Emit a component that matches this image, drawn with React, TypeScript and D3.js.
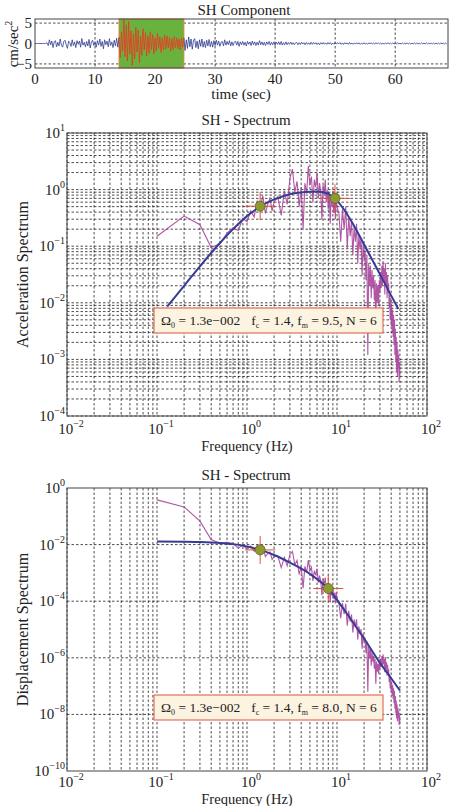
import React from 'react';
import * as d3 from 'd3';

const SERIF = '"Liberation Serif", "Times New Roman", serif';
const GRID = { stroke: '#000', strokeWidth: 0.7, strokeDasharray: '2.5,2' };

// ---- SH component trace (cm/sec^2), sampled every TRACE_DT seconds ----
const TRACE_START = 0;
const TRACE_DT = 0.2;
const TRACE = [
  0, 0, 0, 0, 0, 0, 0, 0, 0, 0,
  // pre-event noise, 2-14 s
  0.2, -0.5, 0.9, -0.3, 0.6, -1.0, 0.4, 0.7, -0.8, 0.3,
  -0.6, 1.1, -0.4, -0.9, 0.5, 0.8, -0.3, -1.2, 0.6, 0.2,
  -0.7, 0.9, -0.5, 0.4, -1.0, 0.7, -0.2, 0.6, -0.9, 1.2,
  -0.4, 0.3, -0.8, 0.5, -0.6, 1.0, -1.1, 0.4, 0.8, -0.5,
  0.3, -0.9, 0.7, -0.4, 1.1, -0.7, 0.5, -1.3, 0.9, -0.3,
  0.6, -0.8, 1.2, -0.5, 0.4, -1.0, 0.8, -0.6, 1.3, -0.9,
  // selected window, 14-24.6 s
  1.5, -3.5, 2.8, -1.9, 5.9, -3.2, 4.6, -4.3, 5.4, -2.6,
  3.1, -5.4, 2.4, -3.8, 4.0, -2.1, 3.3, -4.7, 1.8, -2.9,
  3.6, -1.6, 2.7, -3.1, 1.9, -2.4, 2.9, -1.5, 2.2, -2.6,
  1.4, -1.9, 2.5, -1.2, 1.7, -2.2, 1.3, -1.6, 2.1, -1.4,
  1.8, -1.1, 1.5, -1.9, 1.2, -1.5, 1.7, -1.0, 1.4, -1.3,
  1.1, -1.6, 1.3, -0.9,
  // coda, 24.8-29.8 s
  1.4, -1.7, 0.9, -1.2, 1.6, -0.8, 1.1, -1.4, 0.7, 1.2,
  -1.0, 0.6, -1.3, 0.9, -0.7, 1.1, -0.9, 0.5, -1.0, 0.8,
  -0.6, 1.0, -0.8, 0.5, -0.9, 0.7,
  // 30-41.8 s
  -0.5, 0.8, -0.4, 0.6, -0.7, 0.3, 0.5, -0.6, 0.9, -0.4,
  0.5, -0.3, 0.7, -0.6, 0.4, -0.5, 0.3, 0.6, -0.4, 0.5,
  -0.7, 0.4, -0.3, 0.5, -0.4, 0.3, -0.6, 0.5, -0.2, 0.4,
  -0.5, 0.6, -0.3, 0.4, -0.5, 0.3, -0.4, 0.7, -0.3, 0.4,
  -0.4, 0.3, -0.5, 0.4, -0.2, 0.5, -0.4, 0.3, -0.3, 0.4,
  -0.5, 0.3, -0.2, 0.4, -0.3, 0.5, -0.4, 0.2, -0.3, 0.4,
  // 42-68.6 s
  -0.3, 0.25, -0.2, 0.35, -0.25, 0.2, -0.3, 0.15, 0.25, -0.3,
  0.2, -0.25, 0.3, -0.15, 0.2, -0.3, 0.25, -0.2, 0.15, -0.25,
  0.3, -0.2, 0.25, -0.15, 0.2, -0.25, 0.15, -0.3, 0.2, -0.15,
  0.25, -0.2, 0.15, -0.2, 0.25, -0.15, 0.2, -0.25, 0.1, -0.2,
  0.25, -0.15, 0.2, -0.1, 0.2, -0.2, 0.15, -0.25, 0.2, -0.1,
  0.15, -0.2, 0.25, -0.15, 0.1, -0.2, 0.15, -0.15, 0.2, -0.1,
  0.15, -0.2, 0.1, -0.15, 0.2, -0.15, 0.1, -0.2, 0.15, -0.1,
  0.2, -0.15, 0.1, -0.15, 0.2, -0.1, 0.15, -0.1, 0.15, -0.2,
  0.1, -0.15, 0.15, -0.1, 0.2, -0.15, 0.1, -0.1, 0.15, -0.15,
  0.1, -0.15, 0.2, -0.1, 0.1, -0.15, 0.15, -0.1, 0.1, -0.15,
  0.15, -0.1, 0.1, -0.15, 0.1, -0.1, 0.15, -0.1, 0.1, -0.15,
  0.1, -0.1, 0.15, -0.1, 0.1, -0.1, 0.15, -0.1, 0.1, -0.15,
  0.1, -0.1, 0.1, -0.15, 0.1, -0.1, 0.1, -0.1, 0.15, -0.1,
  0.1, -0.1, 0.1, -0.1,
];
const WINDOW = [14, 24.8];
const TIME_TICKS = [0, 10, 20, 30, 40, 50, 60];
const AMP_TICKS = [5, 0, -5];

// ---- spectra ----
const FREQ = [
  0.1, 0.2, 0.3, 0.4, 0.5, 0.6, 0.7, 0.8, 0.9, 1.0, 1.1, 1.2, 1.3, 1.4, 1.5, 1.6, 1.7, 1.8, 1.9, 2.0,
  2.2, 2.4, 2.6, 2.8, 3.0, 3.2, 3.4, 3.6, 3.8, 4.0, 4.2, 4.4, 4.6, 4.8, 5.0, 5.2, 5.4, 5.6, 5.8, 6.0,
  6.2, 6.4, 6.6, 6.8, 7.0, 7.2, 7.4, 7.6, 7.8, 8.0, 8.2, 8.4, 8.6, 8.8, 9.0, 9.2, 9.4, 9.6, 9.8, 10.0,
  10.5, 11, 11.5, 12, 12.5, 13, 13.5, 14, 14.5, 15, 15.5, 16, 16.5, 17, 17.5, 18, 18.5, 19, 19.5, 20,
  20.5, 21, 21.5, 22, 22.5, 23, 23.5, 24, 24.5, 25, 25.5, 26, 26.5, 27, 27.5, 28, 28.5, 29, 29.5, 30,
  30.5, 31, 31.5, 32, 32.5, 33, 33.5, 34, 34.5, 35, 35.5, 36, 36.5, 37, 37.5, 38, 38.5, 39, 39.5, 40,
  40.5, 41, 41.5, 42, 42.5, 43, 43.5, 44, 44.5, 45, 45.5, 46, 46.5, 47, 47.5, 48, 48.5, 49, 49.5, 50,
];
const ACC = [
  0.15, 0.34, 0.24, 0.095, 0.11, 0.17, 0.21, 0.19, 0.31, 0.27, 0.42, 0.33, 0.62, 0.45, 0.78, 0.38, 0.55, 0.7, 0.42, 0.6,
  0.75, 0.35, 0.95, 0.55, 1.6, 2.3, 0.9, 1.4, 0.5, 1.1, 0.2, 1.3, 0.85, 2.6, 1.2, 1.7, 0.6, 1.5, 1.1, 2.0,
  0.7, 1.3, 0.9, 0.3, 1.2, 0.8, 1.5, 0.6, 1.0, 0.45, 0.9, 0.25, 0.75, 0.5, 0.95, 0.4, 0.7, 0.3, 0.8, 0.5,
  0.38, 0.12, 0.45, 0.2, 0.5, 0.09, 0.33, 0.15, 0.28, 0.07, 0.22, 0.12, 0.25, 0.05, 0.16, 0.09, 0.14, 0.03, 0.11, 0.06,
  0.085, 0.025, 0.07, 0.0012, 0.05, 0.02, 0.045, 0.012, 0.038, 0.018, 0.03, 0.011, 0.025, 0.0035, 0.022, 0.01, 0.02, 0.009, 0.025, 0.015,
  0.035, 0.018, 0.045, 0.02, 0.055, 0.025, 0.04, 0.014, 0.05, 0.02, 0.035, 0.012, 0.03, 0.015, 0.022, 0.008, 0.014, 0.005, 0.012, 0.004,
  0.009, 0.003, 0.0075, 0.0025, 0.006, 0.0018, 0.005, 0.0012, 0.0035, 0.0009, 0.0025, 0.0006, 0.002, 0.0005, 0.0015, 0.0007, 0.0012, 0.0004, 0.0009, 0.0005,
];
const DISP = [
  0.38, 0.215, 0.0675, 0.015, 0.0112, 0.012, 0.0109, 0.0075, 0.0097, 0.0068, 0.0088, 0.0058, 0.0093, 0.0058, 0.0088, 0.0038, 0.0048, 0.0055, 0.003, 0.0038,
  0.0039, 0.00154, 0.00356, 0.00178, 0.0045, 0.0057, 0.00197, 0.00274, 0.00088, 0.00174, 0.00029, 0.0017, 0.00102, 0.00286, 0.00122, 0.00159, 0.00052, 0.00121, 0.00083, 0.00141,
  0.00046, 0.0008, 0.00052, 0.000164, 0.00062, 0.00039, 0.00069, 0.00026, 0.00042, 0.000178, 0.00034, 0.00009, 0.00026, 0.000164, 0.0003, 0.00012, 0.0002, 0.000083, 0.00021, 0.000127,
  8.7e-5, 2.5e-5, 8.6e-5, 3.5e-5, 8.1e-5, 1.35e-5, 4.6e-5, 1.9e-5, 3.4e-5, 7.9e-6, 2.3e-5, 1.2e-5, 2.3e-5, 4.4e-6, 1.3e-5, 7e-6, 1.04e-5, 2.1e-6, 7.3e-6, 3.8e-6,
  5.1e-6, 1.44e-6, 3.8e-6, 6.3e-8, 2.5e-6, 9.6e-7, 2.1e-6, 5.3e-7, 1.6e-6, 7.3e-7, 1.17e-6, 4.1e-7, 9e-7, 1.22e-7, 7.4e-7, 3.2e-7, 6.2e-7, 2.7e-7, 7.3e-7, 4.2e-7,
  9.5e-7, 4.7e-7, 1.15e-6, 5e-7, 1.32e-6, 5.8e-7, 9e-7, 3.1e-7, 1.06e-6, 4.1e-7, 7e-7, 2.35e-7, 5.7e-7, 2.8e-7, 4e-7, 1.4e-7, 2.4e-7, 8.3e-8, 1.95e-7, 6.3e-8,
  1.39e-7, 4.5e-8, 1.1e-7, 3.6e-8, 8.4e-8, 2.5e-8, 6.7e-8, 1.6e-8, 4.5e-8, 1.1e-8, 3.1e-8, 7.2e-9, 2.3e-8, 5.7e-9, 1.7e-8, 7.7e-9, 1.3e-8, 4.2e-9, 9.3e-9, 5.1e-9,
];

// fitted source models
const ACC_FIT_F = [0.13, 0.2, 0.3, 0.5, 0.7, 1, 1.4, 2, 3, 4, 5, 6, 7, 8, 9.5, 12, 15, 20, 25, 30, 40, 48];
const ACC_FIT = [0.0086, 0.02, 0.044, 0.114, 0.2, 0.34, 0.5, 0.67, 0.83, 0.89, 0.92, 0.93, 0.9, 0.84, 0.7, 0.44, 0.25, 0.107, 0.055, 0.032, 0.0134, 0.0078];
const DISP_FIT_F = [0.1, 0.2, 0.3, 0.5, 0.7, 1, 1.4, 2, 3, 5, 8, 12, 15, 20, 30, 40, 50];
const DISP_FIT = [0.0129, 0.0127, 0.0124, 0.0115, 0.0104, 0.0086, 0.0065, 0.0043, 0.0023, 0.00092, 0.00027, 5.0e-5, 1.8e-5, 4.8e-6, 6.6e-7, 1.9e-7, 7e-8];

const ACC_CORNERS: [number, number][] = [[1.4, 0.51], [9.5, 0.7]];
const DISP_CORNERS: [number, number][] = [[1.4, 0.0065], [8.0, 0.00028]];

const FREQ_TICK_EXP = [-2, -1, 0, 1, 2];
const ACC_Y_EXP = [1, 0, -1, -2, -3, -4];
const DISP_Y_EXP = [0, -2, -4, -6, -8, -10];

const fmtExp = (e: number) => (e < 0 ? `\u2212${-e}` : `${e}`);

function Pow({ x, y, exp, anchor }: { x: number; y: number; exp: number; anchor: string }) {
  return (
    <text x={x} y={y} textAnchor={anchor} fontSize={15} fill="#222">
      10<tspan dy={-7} fontSize={10}>{fmtExp(exp)}</tspan>
    </text>
  );
}

const T = { left: 35, right: 448, top: 19, bottom: 68 };

function TracePanel() {
  const x = d3.scaleLinear().domain([0, 68.8]).range([T.left, T.right]);
  const y = d3.scaleLinear().domain([-6, 6]).range([T.bottom, T.top]);
  const pts = TRACE.map((v, i) => [TRACE_START + i * TRACE_DT, v] as [number, number]);
  const line = d3.line<[number, number]>().x((d) => x(d[0])).y((d) => y(d[1]));
  const before = pts.filter((d) => d[0] <= WINDOW[0] + 0.01);
  const inside = pts.filter((d) => d[0] >= WINDOW[0] - 0.01 && d[0] <= WINDOW[1] + 0.01);
  const after = pts.filter((d) => d[0] >= WINDOW[1] - 0.01);
  return (
    <g>
      <text x={244} y={15} textAnchor="middle" fontSize={15} fill="#222">SH Component</text>
      {TIME_TICKS.filter((t) => t > 0).map((t) => (
        <line key={t} x1={x(t)} x2={x(t)} y1={T.top} y2={T.bottom} {...GRID} />
      ))}
      {AMP_TICKS.filter((a) => a !== 0).map((a) => (
        <line key={a} x1={T.left} x2={T.right} y1={y(a)} y2={y(a)} {...GRID} />
      ))}
      <rect x={x(WINDOW[0])} y={T.top} width={x(WINDOW[1]) - x(WINDOW[0])} height={T.bottom - T.top}
        fill="#6ab23e" stroke="#d8823a" strokeWidth={1} />
      <path d={line(before) ?? ''} fill="none" stroke="#2f3b8f" strokeWidth={0.8} />
      <path d={line(after) ?? ''} fill="none" stroke="#2f3b8f" strokeWidth={0.8} />
      <path d={line(inside) ?? ''} fill="none" stroke="#ee3524" strokeWidth={0.8} />
      <rect x={T.left} y={T.top} width={T.right - T.left} height={T.bottom - T.top} fill="none" stroke="#444" strokeWidth={1} />
      {AMP_TICKS.map((a) => (
        <text key={a} x={32} y={y(a) + 5} textAnchor="end" fontSize={15} fill="#222">{a < 0 ? `\u2212${-a}` : a}</text>
      ))}
      {TIME_TICKS.map((t) => (
        <text key={t} x={x(t)} y={84} textAnchor="middle" fontSize={15} fill="#222">{t}</text>
      ))}
      <text x={241} y={99} textAnchor="middle" fontSize={15} fill="#222">time (sec)</text>
      <text transform={`translate(18,44) rotate(-90)`} textAnchor="middle" fontSize={15} fill="#222">
        cm/sec<tspan dy={-6} fontSize={10}>2</tspan>
      </text>
    </g>
  );
}

const S = { left: 67, right: 427 };

type SpecProps = {
  id: string;
  top: number;
  bottom: number;
  yDomain: [number, number];
  yExps: number[];
  yGrid: number[] | null;
  yLabel: string;
  amps: number[];
  fitF: number[];
  fit: number[];
  corners: [number, number][];
  fm: string;
  boxY: number;
  xTickY: number;
  xLabelY: number;
};

function SpectrumPanel(p: SpecProps) {
  const x = d3.scaleLog().domain([1e-2, 1e2]).range([S.left, S.right]);
  const y = d3.scaleLog().domain(p.yDomain).range([p.bottom, p.top]);
  const xGrid = x.ticks();
  const yGrid = p.yGrid ?? y.ticks();
  const raw = d3.line<number>().x((_, i) => x(FREQ[i])).y((d) => y(d));
  const model = d3.line<number>().x((_, i) => x(p.fitF[i])).y((d) => y(d)).curve(d3.curveMonotoneX);
  const midX = (S.left + S.right) / 2;
  const midY = (p.top + p.bottom) / 2;
  return (
    <g>
      <defs>
        <clipPath id={p.id}>
          <rect x={S.left} y={p.top} width={S.right - S.left} height={p.bottom - p.top} />
        </clipPath>
      </defs>
      <text x={246} y={p.top - 8} textAnchor="middle" fontSize={15} fill="#222">SH - Spectrum</text>
      {xGrid.map((v, i) => (
        <line key={'x' + i} x1={x(v)} x2={x(v)} y1={p.top} y2={p.bottom} {...GRID} />
      ))}
      {yGrid.map((v, i) => (
        <line key={'y' + i} x1={S.left} x2={S.right} y1={y(v)} y2={y(v)} {...GRID} />
      ))}
      <g clipPath={`url(#${p.id})`}>
        <path d={raw(p.amps) ?? ''} fill="none" stroke="#a8449c" strokeWidth={1.1} strokeOpacity={0.9} />
        <path d={model(p.fit) ?? ''} fill="none" stroke="#363c96" strokeWidth={2} />
        {p.corners.map(([f, a], i) => (
          <g key={i}>
            <line x1={x(f) - 15} x2={x(f) + 15} y1={y(a)} y2={y(a)} stroke="#ea4a3c" strokeWidth={1} />
            <line x1={x(f)} x2={x(f)} y1={y(a) - 14} y2={y(a) + 14} stroke="#ea4a3c" strokeWidth={1} />
            <circle cx={x(f)} cy={y(a)} r={5} fill="#8f9a2e" stroke="#5c6620" strokeWidth={0.8} />
          </g>
        ))}
      </g>
      <rect x={154} y={p.boxY} width={229} height={25} fill="#fdf3e1" stroke="#e0705a" strokeWidth={1.2} />
      <text x={161} y={p.boxY + 17} fontSize={13.5} fill="#222">
        {'\u03A9'}<tspan dy={3} fontSize={8}>0</tspan>
        <tspan dy={-3}>{' = 1.3e\u2212002'}</tspan>
        <tspan dx={11}>f</tspan><tspan dy={3} fontSize={8}>c</tspan>
        <tspan dy={-3}>{' = 1.4, f'}</tspan><tspan dy={3} fontSize={8}>m</tspan>
        <tspan dy={-3}>{` = ${p.fm}, N = 6`}</tspan>
      </text>
      <rect x={S.left} y={p.top} width={S.right - S.left} height={p.bottom - p.top} fill="none" stroke="#444" strokeWidth={1} />
      {p.yExps.map((e) => (
        <Pow key={e} x={65} y={y(Math.pow(10, e)) + 5} exp={e} anchor="end" />
      ))}
      {FREQ_TICK_EXP.map((e) => (
        <Pow key={e} x={x(Math.pow(10, e)) + 4} y={p.xTickY} exp={e} anchor="middle" />
      ))}
      <text x={midX} y={p.xLabelY} textAnchor="middle" fontSize={14.5} fill="#222">Frequency (Hz)</text>
      <text transform={`translate(28,${midY}) rotate(-90)`} textAnchor="middle" fontSize={16} fill="#222">{p.yLabel}</text>
    </g>
  );
}

export default function App() {
  return (
    <svg width={450} height={806} fontFamily={SERIF}
      style={{ position: 'absolute', left: 0, top: 0, background: '#fff' }}>
      <rect width={450} height={806} fill="#fff" />
      <TracePanel />
      <SpectrumPanel id="clipAcc" top={133} bottom={416} yDomain={[1e-4, 10]} yExps={ACC_Y_EXP} yGrid={null}
        yLabel="Acceleration Spectrum" amps={ACC} fitF={ACC_FIT_F} fit={ACC_FIT} corners={ACC_CORNERS} fm="9.5"
        boxY={308} xTickY={434} xLabelY={451} />
      <SpectrumPanel id="clipDisp" top={488} bottom={771} yDomain={[1e-10, 1]} yExps={DISP_Y_EXP}
        yGrid={DISP_Y_EXP.slice(1, -1).map((e) => Math.pow(10, e))}
        yLabel="Displacement Spectrum" amps={DISP} fitF={DISP_FIT_F} fit={DISP_FIT} corners={DISP_CORNERS} fm="8.0"
        boxY={695} xTickY={787} xLabelY={804} />
    </svg>
  );
}
